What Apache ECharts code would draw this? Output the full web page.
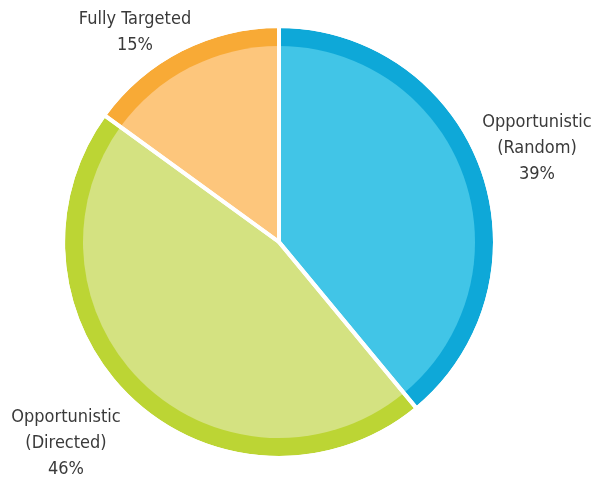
<!DOCTYPE html>
<html>
<head>
<meta charset="utf-8">
<script src="https://cdn.jsdelivr.net/npm/echarts@6/dist/echarts.min.js"></script>
<style>
html,body{margin:0;padding:0;background:#fff;}
#chart{width:592px;height:479px;}
</style>
</head>
<body>
<div id="chart"></div>
<script>
// ---- data ----
const categories = ['Opportunistic\n(Random)', 'Opportunistic\n(Directed)', 'Fully Targeted'];
const shares = [39, 46, 15];

// ---- styles / layout ----
const rimColors = ['#0ea8d8', '#bcd534', '#f8aa36'];
const fillColors = ['#41c5e7', '#d4e281', '#fdc67c'];
const labelAnchors = [[537, 148], [66, 443], [135, 32]];
const center = [279, 242];

const mk = (colors) => categories.map((n, i) => ({
  name: n, value: shares[i], itemStyle: { color: colors[i] }
}));

const chart = echarts.init(document.getElementById('chart'), null, { renderer: 'canvas' });
chart.setOption({
  animation: false,
  backgroundColor: '#fff',
  series: [
    {
      type: 'pie', center: center, radius: [0, 214], startAngle: 90, clockwise: true,
      silent: true, label: { show: false }, labelLine: { show: false },
      data: mk(rimColors)
    },
    {
      type: 'pie', center: center, radius: [0, 196], startAngle: 90, clockwise: true,
      silent: true, label: { show: false }, labelLine: { show: false },
      data: mk(fillColors)
    },
    {
      type: 'pie', center: center, radius: [0, 216], startAngle: 90, clockwise: true,
      silent: true,
      itemStyle: { borderColor: '#fff', borderWidth: 4 },
      data: categories.map((n, i) => ({ name: n, value: shares[i], itemStyle: { color: 'rgba(0,0,0,0)' } })),
      labelLine: { show: false },
      label: {
        show: true, position: 'outside', overflow: 'none', alignTo: 'none',
        formatter: (p) => p.name + '\n' + p.value + '%',
        fontFamily: '"DejaVu Sans Condensed", "Liberation Sans Narrow", sans-serif',
        fontSize: 18, lineHeight: 26, color: '#3a3a3a', align: 'center'
      },
      labelLayout: (p) => ({
        x: labelAnchors[p.dataIndex][0], y: labelAnchors[p.dataIndex][1],
        align: 'center', verticalAlign: 'middle'
      })
    }
  ]
});
</script>
</body>
</html>
